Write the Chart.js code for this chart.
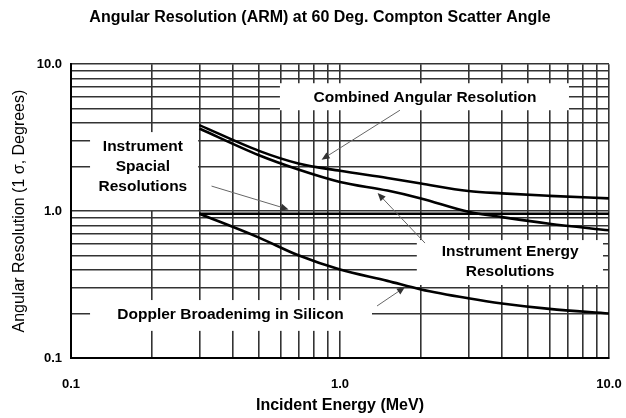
<!DOCTYPE html>
<html>
<head>
<meta charset="utf-8">
<script src="https://cdn.jsdelivr.net/npm/chart.js@4"></script>
<style>
  html, body { margin: 0; padding: 0; background: #fff; }
</style>
</head>
<body>
<canvas id="arm-chart" width="626" height="418"></canvas>
<script>
// values (MeV, degrees)
const energies = [0.3, 0.5, 0.7, 1, 1.5, 2, 3, 4, 6, 10];
const combinedRes = [3.85, 2.57, 2.11, 1.88, 1.68, 1.54, 1.37, 1.32, 1.27, 1.22];
const energyRes = [3.65, 2.40, 1.92, 1.58, 1.38, 1.22, 0.99, 0.91, 0.82, 0.74];
const dopplerEnergies = [0.3, 0.5, 0.7, 1, 1.5, 2, 3, 4, 6, 10];
const dopplerRes = [0.96, 0.66, 0.50, 0.40, 0.335, 0.293, 0.255, 0.235, 0.216, 0.201];
const spacialEnergies = [0.3, 10];
const spacialRes = [0.96, 0.96];

// log grid lines and the labelled ticks
const gridValues = [0.1, 0.2, 0.3, 0.4, 0.5, 0.6, 0.7, 0.8, 0.9,
                    1, 2, 3, 4, 5, 6, 7, 8, 9, 10];
const majorTicks = [0.1, 1, 10];
const xTickLabels = ['0.1', '1.0', '10.0'];
const yTickLabels = ['0.1', '1.0', '10.0'];

const FONT = '"Liberation Sans", Arial, sans-serif';

function pairs(xs, ys) {
  return xs.map((x, i) => ({ x: x, y: ys[i] }));
}

function tickText(labels) {
  return function (v) {
    const i = majorTicks.findIndex(m => Math.abs(m - v) < 1e-9);
    return i < 0 ? '' : labels[i];
  };
}

// callout boxes, text and arrows, all in data units
const notes = [
  { lines: ['Combined Angular Resolution'], at: [2.07, 5.87],
    box: [0.598, 7.1, 7.42, 4.86], from: [1.67, 4.86], to: [0.854, 2.24] },
  { lines: ['Instrument', 'Spacial', 'Resolutions'], at: [0.185, 2.0],
    box: [0.1177, 0.297, 3.45, 1.016], from: [0.333, 1.48], to: [0.644, 1.027] },
  { lines: ['Instrument Energy', 'Resolutions'], at: [4.29, 0.452],
    box: [1.93, 9.5, 0.635, 0.314], from: [2.07, 0.606], to: [1.38, 1.326] },
  { lines: ['Doppler Broadenimg in Silicon'], at: [0.392, 0.196],
    box: [0.1177, 1.315, 0.248, 0.153], from: [1.373, 0.226], to: [1.744, 0.304] }
];

const callouts = {
  id: 'callouts',
  beforeDatasetsDraw(chart) {
    const { ctx, scales: { x, y } } = chart;
    ctx.save();
    ctx.fillStyle = '#fff';
    notes.forEach(n => {
      const x0 = x.getPixelForValue(n.box[0]), x1 = x.getPixelForValue(n.box[1]);
      const y0 = y.getPixelForValue(n.box[2]), y1 = y.getPixelForValue(n.box[3]);
      ctx.fillRect(x0, y0, x1 - x0, y1 - y0);
    });
    ctx.restore();
  },
  afterDatasetsDraw(chart) {
    const { ctx, scales: { x, y } } = chart;
    ctx.save();
    notes.forEach(n => {
      // arrow
      const fx = x.getPixelForValue(n.from[0]), fy = y.getPixelForValue(n.from[1]);
      const tx = x.getPixelForValue(n.to[0]), ty = y.getPixelForValue(n.to[1]);
      const ang = Math.atan2(ty - fy, tx - fx);
      ctx.strokeStyle = '#666';
      ctx.lineWidth = 1;
      ctx.beginPath();
      ctx.moveTo(fx, fy);
      ctx.lineTo(tx - 6 * Math.cos(ang), ty - 6 * Math.sin(ang));
      ctx.stroke();
      ctx.fillStyle = '#333';
      ctx.beginPath();
      ctx.moveTo(tx, ty);
      ctx.lineTo(tx - 8 * Math.cos(ang) + 3.5 * Math.sin(ang), ty - 8 * Math.sin(ang) - 3.5 * Math.cos(ang));
      ctx.lineTo(tx - 8 * Math.cos(ang) - 3.5 * Math.sin(ang), ty - 8 * Math.sin(ang) + 3.5 * Math.cos(ang));
      ctx.closePath();
      ctx.fill();
      // text
      ctx.fillStyle = '#000';
      ctx.font = 'bold 15.5px ' + FONT;
      ctx.textAlign = 'center';
      ctx.textBaseline = 'middle';
      const cx = x.getPixelForValue(n.at[0]), cy = y.getPixelForValue(n.at[1]);
      const step = 20;
      n.lines.forEach((t, i) => {
        ctx.fillText(t, cx, cy + (i - (n.lines.length - 1) / 2) * step);
      });
    });
    ctx.restore();
  }
};

const curve = {
  borderColor: '#000',
  borderWidth: 2.6,
  pointRadius: 0,
  fill: false,
  cubicInterpolationMode: 'monotone'
};

new Chart(document.getElementById('arm-chart'), {
  type: 'line',
  data: {
    datasets: [
      Object.assign({ label: 'Combined Angular Resolution', data: pairs(energies, combinedRes) }, curve),
      Object.assign({ label: 'Instrument Energy Resolutions', data: pairs(energies, energyRes) }, curve),
      Object.assign({ label: 'Instrument Spacial Resolutions', data: pairs(spacialEnergies, spacialRes) }, curve),
      Object.assign({ label: 'Doppler Broadening in Silicon', data: pairs(dopplerEnergies, dopplerRes) }, curve)
    ]
  },
  options: {
    responsive: false,
    animation: false,
    devicePixelRatio: 1,
    layout: { padding: { left: 14, right: 0, top: 0, bottom: 0 } },
    plugins: {
      legend: { display: false },
      tooltip: { enabled: false },
      title: {
        display: true,
        text: 'Angular Resolution (ARM) at 60 Deg. Compton Scatter Angle',
        color: '#000',
        font: { family: FONT, size: 16, weight: 'bold' },
        padding: { top: 8, bottom: 37 }
      }
    },
    scales: {
      x: {
        type: 'logarithmic',
        min: 0.1,
        max: 10,
        afterBuildTicks: s => { s.ticks = gridValues.map(v => ({ value: v })); },
        afterFit: s => { s.height = 60; s.paddingLeft = 0; s.paddingRight = 17; },
        ticks: {
          autoSkip: false, maxRotation: 0, minRotation: 0, padding: 19,
          color: '#000', font: { family: FONT, size: 13, weight: 'bold' },
          callback: tickText(xTickLabels)
        },
        grid: { color: '#333', lineWidth: 1.6, drawTicks: false },
        border: { color: '#000', width: 2 },
        title: {
          display: true, text: 'Incident Energy (MeV)', color: '#000',
          font: { family: FONT, size: 16, weight: 'bold' },
          padding: { top: 0, bottom: 3 }
        }
      },
      y: {
        type: 'logarithmic',
        min: 0.1,
        max: 10,
        afterBuildTicks: s => { s.ticks = gridValues.map(v => ({ value: v })); },
        afterFit: s => { s.width = 57; },
        ticks: {
          autoSkip: false, padding: 9,
          color: '#000', font: { family: FONT, size: 13, weight: 'bold' },
          callback: tickText(yTickLabels)
        },
        grid: { color: '#333', lineWidth: 1.6, drawTicks: false },
        border: { color: '#000', width: 2 },
        title: {
          display: true, text: 'Angular Resolution (1 σ, Degrees)', color: '#000',
          font: { family: FONT, size: 16 },
          padding: { top: -4, bottom: 0 }
        }
      }
    }
  },
  plugins: [callouts]
});
</script>
</body>
</html>
